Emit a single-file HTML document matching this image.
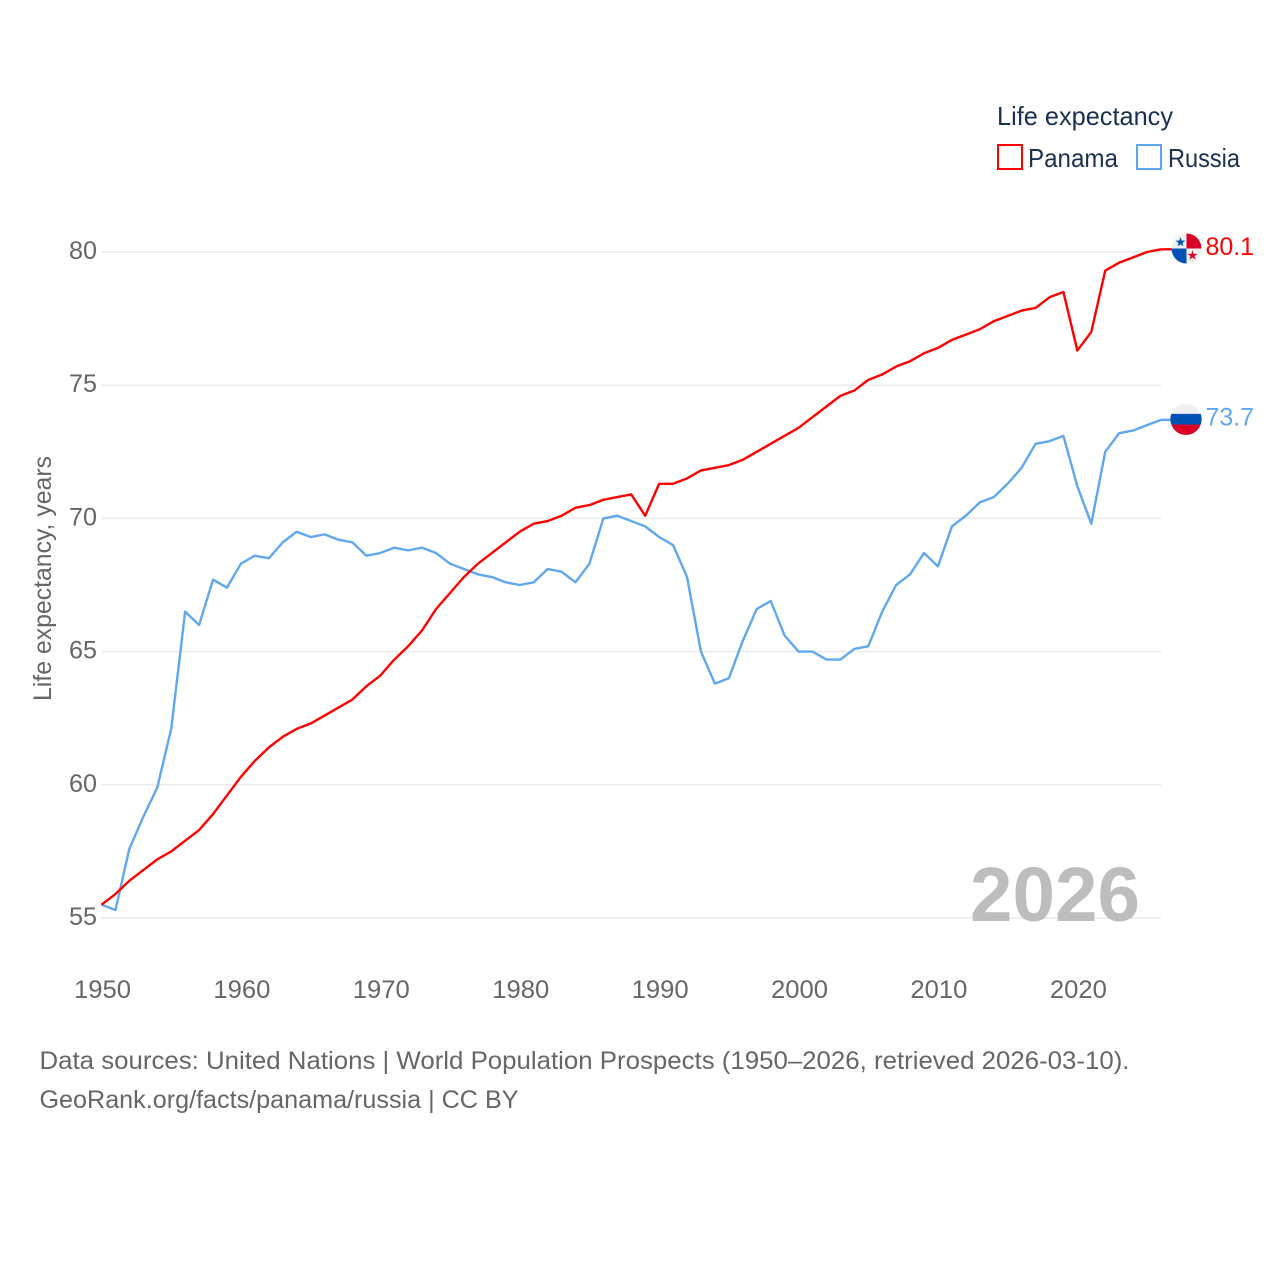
<!DOCTYPE html>
<html lang="en">
<head>
<meta charset="utf-8">
<title>Life expectancy: Panama and Russia</title>
<style>
  html, body { margin: 0; padding: 0; background: #fff; }
  svg { display: block; font-family: "Liberation Sans", sans-serif; }
</style>
</head>
<body>
<svg id="chart" width="1280" height="1280" viewBox="0 0 1280 1280" xmlns="http://www.w3.org/2000/svg">
  <rect width="1280" height="1280" fill="#fff"/>
  <g id="grid"></g>
  <g id="ylabels"></g>
  <g id="xlabels"></g>

  <text transform="translate(51,701) rotate(-90)" font-size="25" fill="#666" textLength="245" lengthAdjust="spacingAndGlyphs">Life expectancy, years</text>

  <text x="970" y="921" font-size="77" font-weight="700" fill="#bdbdbd" textLength="170" lengthAdjust="spacingAndGlyphs">2026</text>

  <g id="series"></g>

  <g>
    <text x="997" y="125" font-size="26" fill="#1a3150" textLength="176" lengthAdjust="spacingAndGlyphs">Life expectancy</text>
    <g>
      <rect x="998" y="145" width="24" height="24" fill="#fff" stroke="#ff0000" stroke-width="2"/>
      <text x="1028" y="167" font-size="26" fill="#1a3150" textLength="90" lengthAdjust="spacingAndGlyphs">Panama</text>
    </g>
    <g>
      <rect x="1137" y="145" width="24" height="24" fill="#fff" stroke="#5fa8ee" stroke-width="2"/>
      <text x="1168" y="167" font-size="26" fill="#1a3150" textLength="72" lengthAdjust="spacingAndGlyphs">Russia</text>
    </g>
  </g>

  <g id="flag-panama">
    <circle cx="0" cy="0" r="15" fill="#f0f0f0"/>
    <path d="M0 0V-15A15 15 0 0 1 15 0Z" fill="#d80027"/>
    <path d="M0 0H-15A15 15 0 0 0 0 15Z" fill="#0052b4"/>
    <path d="M-6-11.5l1.2 3.6h3.8l-3.1 2.2 1.2 3.6-3.1-2.2-3.1 2.2 1.2-3.6-3.1-2.2h3.800z" fill="#0052b4"/>
    <path d="M6 1.800l1.200 3.600h3.800l-3.100 2.200 1.200 3.600-3.100-2.200-3.100 2.200 1.200-3.600-3.100-2.200h3.800z" fill="#d80027"/>
  </g>
  <g id="flag-russia">
    <circle cx="0" cy="0" r="15.5" fill="#f0f0f0"/>
    <path d="M-14.700 5A15.500 15.500 0 0 0 14.700 5Z" fill="#d80027"/>
    <path d="M-14.700-5.500A15.500 15.500 0 0 0-14.700 5.200H14.700A15.500 15.500 0 0 0 14.700-5.500Z" fill="#0052b4"/>
  </g>

  <text id="value-panama" x="1205.5" font-size="25" fill="#ff0000" textLength="48.500" lengthAdjust="spacingAndGlyphs"></text>
  <text id="value-russia" x="1205.5" font-size="25" fill="#5fa8ee" textLength="48.500" lengthAdjust="spacingAndGlyphs"></text>

  <g>
    <text x="39.500" y="1069" font-size="25" fill="#666" textLength="1090" lengthAdjust="spacingAndGlyphs">Data sources: United Nations | World Population Prospects (1950–2026, retrieved 2026-03-10).</text>
    <text x="39.500" y="1108" font-size="25" fill="#666" textLength="479" lengthAdjust="spacingAndGlyphs">GeoRank.org/facts/panama/russia | CC BY</text>
  </g>
</svg>

<script>
const firstYear = 1950;
const panamaValues = [
  55.5, 55.9, 56.4, 56.8, 57.2, 57.5, 57.9, 58.3, 58.9, 59.6,
  60.3, 60.9, 61.4, 61.8, 62.1, 62.3, 62.6, 62.9, 63.2, 63.7,
  64.1, 64.7, 65.2, 65.8, 66.6, 67.2, 67.8, 68.3, 68.7, 69.1,
  69.5, 69.8, 69.9, 70.1, 70.4, 70.5, 70.7, 70.8, 70.9, 70.1,
  71.3, 71.3, 71.5, 71.8, 71.9, 72.0, 72.2, 72.5, 72.8, 73.1,
  73.4, 73.8, 74.2, 74.6, 74.8, 75.2, 75.4, 75.7, 75.9, 76.2,
  76.4, 76.7, 76.9, 77.1, 77.4, 77.6, 77.8, 77.9, 78.3, 78.5,
  76.3, 77.0, 79.3, 79.6, 79.8, 80.0, 80.1
];
const russiaValues = [
  55.5, 55.3, 57.6, 58.8, 59.9, 62.1, 66.5, 66.0, 67.7, 67.4,
  68.3, 68.6, 68.5, 69.1, 69.5, 69.3, 69.4, 69.2, 69.1, 68.6,
  68.7, 68.9, 68.8, 68.9, 68.7, 68.3, 68.1, 67.9, 67.8, 67.6,
  67.5, 67.6, 68.1, 68.0, 67.6, 68.3, 70.0, 70.1, 69.9, 69.7,
  69.3, 69.0, 67.8, 65.0, 63.8, 64.0, 65.4, 66.6, 66.9, 65.6,
  65.0, 65.0, 64.7, 64.7, 65.1, 65.2, 66.5, 67.5, 67.9, 68.7,
  68.2, 69.7, 70.1, 70.6, 70.8, 71.3, 71.9, 72.8, 72.9, 73.1,
  71.2, 69.8, 72.5, 73.2, 73.3, 73.5, 73.7
];
const yTicks = [55, 60, 65, 70, 75, 80];
const xTicks = [1950, 1960, 1970, 1980, 1990, 2000, 2010, 2020];

const SVG_NS = 'http://www.w3.org/2000/svg';
const xScale = year => 101.5 + (year - firstYear) * (1059.5 / 76);
const yScale = value => 918 - (value - 55) * (666 / 25);

const grid = document.getElementById('grid');
const ylabels = document.getElementById('ylabels');
const xlabels = document.getElementById('xlabels');
const series = document.getElementById('series');

yTicks.forEach(tick => {
  const line = document.createElementNS(SVG_NS, 'line');
  
  
  line.setAttribute('x1', xScale(firstYear));
  line.setAttribute('x2', xScale(2026));
  line.setAttribute('y1', yScale(tick));
  line.setAttribute('y2', yScale(tick));
  line.setAttribute('stroke', '#ebebeb');
  line.setAttribute('stroke-width', '1.5');
  grid.appendChild(line);

  const label = document.createElementNS(SVG_NS, 'text');
  
  
  label.setAttribute('x', 69);
  label.setAttribute('y', yScale(tick) + 7);
  label.setAttribute('font-size', '25');
  label.setAttribute('fill', '#666');
  label.setAttribute('textLength', '28');
  label.setAttribute('lengthAdjust', 'spacingAndGlyphs');
  label.textContent = tick;
  ylabels.appendChild(label);
});

xTicks.forEach(tick => {
  const label = document.createElementNS(SVG_NS, 'text');
  
  
  label.setAttribute('x', xScale(tick) - 27.5);
  label.setAttribute('y', 998);
  label.setAttribute('font-size', '25');
  label.setAttribute('fill', '#666');
  label.setAttribute('textLength', '57');
  label.setAttribute('lengthAdjust', 'spacingAndGlyphs');
  label.textContent = tick;
  xlabels.appendChild(label);
});

function linePath(values) {
  const pts = values.map((v, i) => xScale(firstYear + i).toFixed(2) + ',' + yScale(v).toFixed(2));
  const last = values[values.length - 1];
  pts.push('1172,' + yScale(last).toFixed(2));
  return 'M' + pts.join('L');
}

const russiaLine = document.createElementNS(SVG_NS, 'path');


russiaLine.setAttribute('d', linePath(russiaValues));
russiaLine.setAttribute('fill', 'none');
russiaLine.setAttribute('stroke', '#5fa8ee');
russiaLine.setAttribute('stroke-width', '2.4');
russiaLine.setAttribute('stroke-linejoin', 'round');
series.appendChild(russiaLine);

const panamaLine = document.createElementNS(SVG_NS, 'path');


panamaLine.setAttribute('d', linePath(panamaValues));
panamaLine.setAttribute('fill', 'none');
panamaLine.setAttribute('stroke', '#ff0000');
panamaLine.setAttribute('stroke-width', '2.4');
panamaLine.setAttribute('stroke-linejoin', 'round');
series.appendChild(panamaLine);

const lastPanama = panamaValues[panamaValues.length - 1];
const lastRussia = russiaValues[russiaValues.length - 1];
document.getElementById('flag-panama').setAttribute('transform', 'translate(1186.5,' + (yScale(lastPanama) - 0.8) + ')');
document.getElementById('flag-russia').setAttribute('transform', 'translate(1186,' + (yScale(lastRussia) - 0.5) + ')');
const valuePanama = document.getElementById('value-panama');
valuePanama.setAttribute('y', yScale(lastPanama) + 5.5);
valuePanama.textContent = lastPanama.toFixed(1);
const valueRussia = document.getElementById('value-russia');
valueRussia.setAttribute('y', yScale(lastRussia) + 5.5);
valueRussia.textContent = lastRussia.toFixed(1);
</script>
</body>
</html>
